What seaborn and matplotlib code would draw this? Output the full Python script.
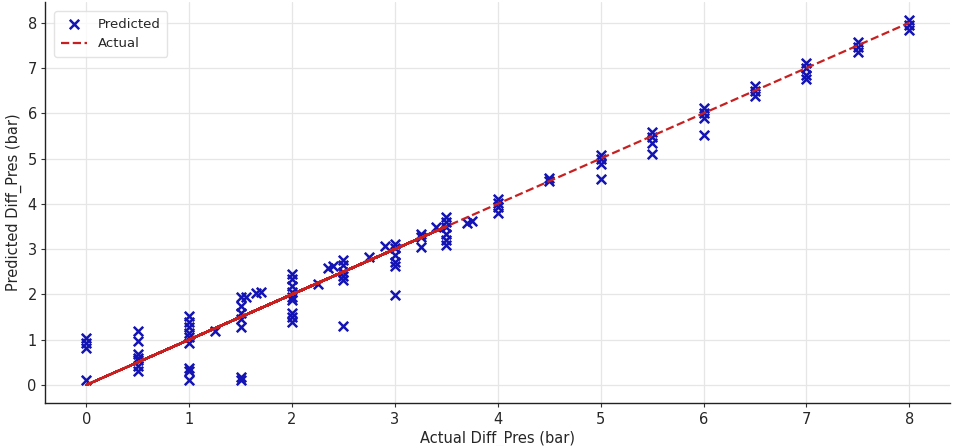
import matplotlib
matplotlib.use("Agg")
import matplotlib.pyplot as plt
import seaborn as sns

# actual vs predicted differential pressure, in test-set order (not sorted)
actual = [
    2.0, 0.5, 3.0, 1.0, 2.5, 0.0, 3.5, 1.5, 2.0, 0.5, 3.25, 1.0, 2.5, 0.0, 3.0, 1.5,
    2.0, 0.5, 3.5, 1.0, 2.75, 0.0, 3.0, 1.5, 2.0, 0.5, 3.4, 1.0, 2.5, 0.0, 3.5, 1.25,
    2.0, 0.5, 3.0, 1.5, 2.25, 1.0, 3.5, 0.5, 2.5, 1.5, 2.9, 1.0, 2.0, 0.5, 3.25, 1.55,
    2.35, 1.0, 3.0, 1.65, 2.0, 1.0, 3.5, 1.7, 2.4, 1.5, 3.25, 2.0, 1.0, 2.5, 1.5, 3.5,
    2.0, 3.0, 2.5, 3.7, 3.75,
    4.0, 4.0, 4.0, 4.0, 4.5, 4.5, 5.0, 5.0, 5.0, 5.0, 5.5, 5.5, 5.5, 5.5,
    6.0, 6.0, 6.0, 6.0, 6.5, 6.5, 6.5, 7.0, 7.0, 7.0, 7.0, 7.5, 7.5, 7.5, 8.0, 8.0, 8.0,
]
predicted = [
    2.45, 1.2, 3.12, 1.52, 2.77, 1.03, 3.7, 1.95, 2.35, 0.97, 3.34, 1.4, 2.65, 0.92, 3.02, 1.75,
    2.18, 0.68, 3.6, 1.28, 2.82, 0.82, 2.86, 1.6, 2.06, 0.6, 3.48, 1.15, 2.5, 0.1, 3.48, 1.2,
    1.95, 0.55, 2.72, 1.45, 2.23, 1.05, 3.34, 0.42, 2.4, 1.27, 3.06, 0.92, 1.88, 0.3, 3.26, 1.95,
    2.58, 0.38, 2.62, 2.02, 1.6, 0.3, 3.2, 2.05, 2.62, 0.17, 3.05, 1.5, 0.1, 2.32, 0.1, 3.1,
    1.4, 1.99, 1.3, 3.58, 3.62,
    4.1, 4.02, 3.92, 3.8, 4.57, 4.5, 5.08, 4.98, 4.88, 4.55, 5.58, 5.47, 5.35, 5.1,
    6.12, 6.01, 5.9, 5.53, 6.6, 6.5, 6.39, 7.1, 7.0, 6.85, 6.76, 7.58, 7.47, 7.36, 8.06, 7.95, 7.83,
]

sns.set_theme(style="whitegrid", rc={"grid.color": "#e6e6e6", "grid.linewidth": 0.9})
plt.rcParams["font.family"] = ["DejaVu Sans"]

fig = plt.figure(figsize=(9.6, 4.46), dpi=100)
ax = fig.add_axes([0.047, 0.096, 0.943, 0.9])

sns.scatterplot(x=actual, y=predicted, marker="x", color="#1414b4", s=46,
                linewidth=1.8, label="Predicted", ax=ax, zorder=3)
# plotted in data order, like plt.plot(y_test, y_test, 'r--')
sns.lineplot(x=actual, y=actual, sort=False, estimator=None, color="#c82020",
             linestyle="--", linewidth=1.6, label="Actual", ax=ax, zorder=4)

ax.margins(0.05)
ax.set_xticks(range(0, 9))
ax.set_yticks(range(0, 9))
ax.set_xlabel("Actual Diff_Pres (bar)", fontsize=10.5, labelpad=3)
ax.set_ylabel("Predicted Diff_Pres (bar)", fontsize=10.5, labelpad=4)
ax.tick_params(axis="both", labelsize=10.5, length=3, width=0.8, color="#333333",
               left=True, bottom=True, pad=3)

for side in ["top", "right"]:
    ax.spines[side].set_visible(False)
for side in ["left", "bottom"]:
    ax.spines[side].set_color("#222222")
    ax.spines[side].set_linewidth(1.0)

leg = ax.legend(loc="upper left", fontsize=9.5, frameon=True, borderaxespad=0.7,
                handlelength=2.0, borderpad=0.5)
leg.get_frame().set_edgecolor("#dddddd")

fig.savefig("out.png", dpi=100)
